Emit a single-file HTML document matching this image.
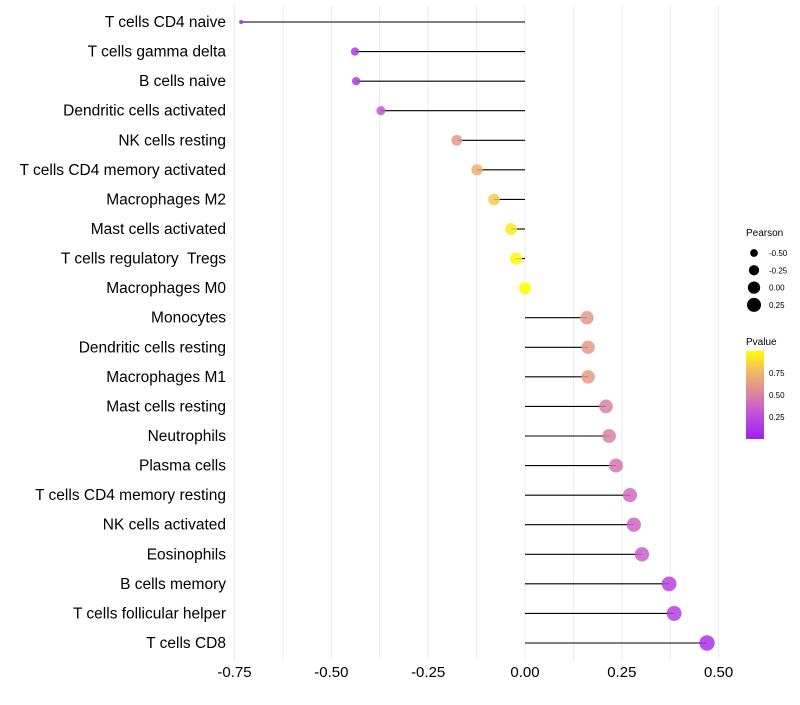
<!DOCTYPE html>
<html><head><meta charset="utf-8"><style>
body{margin:0;background:#fff;font-family:"Liberation Sans",sans-serif}
</style></head><body>
<svg id="chart" width="800" height="700" xmlns="http://www.w3.org/2000/svg">
<g id="grid"></g><g id="marks"></g><g id="labels"></g><g id="legend"></g>
</svg>
<script>
const categories=["T cells CD4 naive","T cells gamma delta","B cells naive","Dendritic cells activated","NK cells resting","T cells CD4 memory activated","Macrophages M2","Mast cells activated","T cells regulatory  Tregs","Macrophages M0","Monocytes","Dendritic cells resting","Macrophages M1","Mast cells resting","Neutrophils","Plasma cells","T cells CD4 memory resting","NK cells activated","Eosinophils","B cells memory","T cells follicular helper","T cells CD8"];
const pearson=[-0.733,-0.439,-0.436,-0.372,-0.176,-0.124,-0.080,-0.036,-0.023,0.0,0.160,0.163,0.163,0.209,0.217,0.235,0.271,0.281,0.302,0.372,0.385,0.470];
const pvalue=[0.0,0.15,0.16,0.3,0.62,0.72,0.82,0.92,0.97,1.0,0.62,0.62,0.63,0.5,0.5,0.45,0.4,0.38,0.35,0.2,0.18,0.1];
const xTicks=[-0.75,-0.5,-0.25,0,0.25,0.5];
const xTickLabels=["-0.75","-0.50","-0.25","0.00","0.25","0.50"];
const sizeLegend=[-0.5,-0.25,0,0.25];
const sizeLegendLabels=["-0.50","-0.25","0.00","0.25"];
const pLegend=[0.25,0.5,0.75];
const pLegendLabels=["0.25","0.50","0.75"];

const NS="http://www.w3.org/2000/svg";
const x=v=>525+v*387.3;
const y=i=>22+i*(621/21);
const r=p=>Math.sqrt(Math.max(4,4+46*(p+0.733)));
const stops=[[0,[160,32,240]],[0.33,[200,90,210]],[0.55,[222,140,150]],[0.75,[240,180,110]],[1,[255,255,0]]];
function col(p){for(let k=1;k<stops.length;k++){if(p<=stops[k][0]){const a=stops[k-1],b=stops[k],t=(p-a[0])/(b[0]-a[0]);return 'rgb('+a[1].map((c,j)=>Math.round(c+(b[1][j]-c)*t)).join(',')+')';}}return 'rgb(255,255,0)';}
function mk(parent,tag,attrs,text){const e=document.createElementNS(NS,tag);for(const k in attrs)e.setAttribute(k,attrs[k]);if(text!==undefined)e.textContent=text;document.getElementById(parent).appendChild(e);return e;}
for(let v=-0.75;v<=0.5001;v+=0.125){
 const g=mk('grid','line',{x1:x(v),x2:x(v),y1:5,y2:660,stroke:'#ebebeb','stroke-width':1});
 
 
}
xTicks.forEach((v,i)=>{
 const t=mk('labels','text',{x:x(v),y:677,'text-anchor':'middle','font-size':15,fill:'#000'},xTickLabels[i]);
 
 
});
categories.forEach((c,i)=>{
 const t=mk('labels','text',{x:226,y:y(i)+5,'text-anchor':'end','font-size':15.5,fill:'#000','xml:space':'preserve',style:'white-space:pre'},c);
 
 
 const l=mk('marks','line',{x1:x(0),x2:x(pearson[i]),y1:y(i),y2:y(i),stroke:'#000','stroke-width':1.1});
 
 
 const d=mk('marks','circle',{cx:x(pearson[i]),cy:y(i),r:r(pearson[i]),fill:col(pvalue[i]),'fill-opacity':0.85});
 
 
});
const lt=mk('legend','text',{x:746,y:236,'font-size':10},'Pearson');


sizeLegend.forEach((v,i)=>{
 const cy=253+i*17.3;
 const c=mk('legend','circle',{cx:754,cy:cy,r:r(v),fill:'#000'});
 
 
 const t=mk('legend','text',{x:769,y:cy+3,'font-size':8},sizeLegendLabels[i]);
 
 
});
const pt=mk('legend','text',{x:746,y:345,'font-size':10},'Pvalue');


const defs=mk('legend','defs',{});
const grad=document.createElementNS(NS,'linearGradient');grad.setAttribute('id','pg');grad.setAttribute('x1',0);grad.setAttribute('y1',1);grad.setAttribute('x2',0);grad.setAttribute('y2',0);
stops.forEach(s=>{const st=document.createElementNS(NS,'stop');st.setAttribute('offset',s[0]);st.setAttribute('stop-color','rgb('+s[1].join(',')+')');grad.appendChild(st);});
defs.appendChild(grad);
const bar=mk('legend','rect',{x:746,y:351,width:18,height:88,fill:'url(#pg)'});


pLegend.forEach((v,i)=>{
 const yy=439-v*88;
 const t=mk('legend','text',{x:769,y:yy+3,'font-size':8},pLegendLabels[i]);
 
 
});
</script>
</body></html>
